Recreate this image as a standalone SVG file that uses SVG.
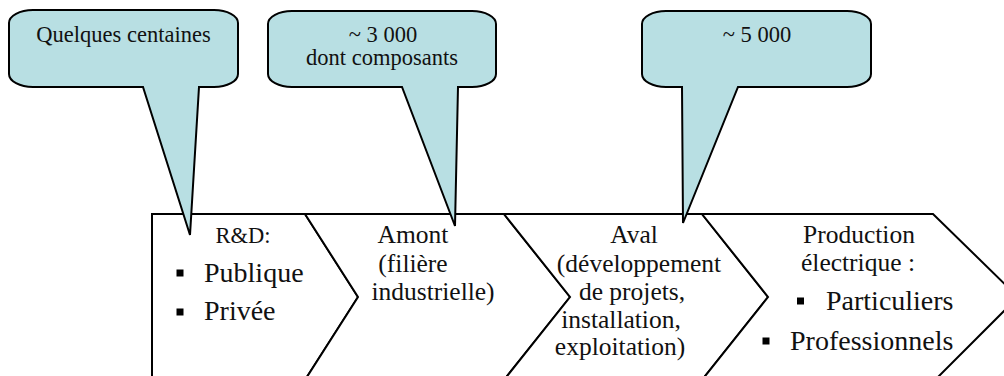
<svg xmlns="http://www.w3.org/2000/svg" width="1004" height="376" viewBox="0 0 1004 376">
  <style>
    .stage { fill: #ffffff; stroke: #000000; stroke-width: 2; stroke-linejoin: miter; }
    .bubble { fill: #b8dfe3; stroke: #000000; stroke-width: 2; stroke-linejoin: miter; }
    text { font-family: "Liberation Serif", "Times New Roman", serif; fill: #111111; }
    .note { font-size: 22.5px; text-anchor: middle; }
    .lbl { font-size: 25.5px; text-anchor: middle; }
    .item { font-size: 28px; }
    .dot { fill: #000000; }
  </style>

  <rect width="1004" height="376" fill="#ffffff"/>

  <!-- value chain stages -->
  <g id="stage-rd">
    <path class="stage" d="M152,214 H305 L358,297 L305,380 H152 Z"/>
    <text class="lbl" x="243" y="243" style="font-size:22.5px">R&amp;D:</text>
    <rect class="dot" x="176.5" y="269.5" width="7" height="7"/>
    <text class="item" x="204" y="282">Publique</text>
    <rect class="dot" x="176.5" y="308.5" width="7" height="7"/>
    <text class="item" x="204" y="320">Privée</text>
  </g>

  <g id="stage-amont">
    <path class="stage" d="M305,214 H504 L570,297 L504,380 H305 L358,297 Z"/>
    <text class="lbl" x="413" y="243">Amont</text>
    <text class="lbl" x="413" y="272">(filière</text>
    <text class="lbl" x="433" y="300">industrielle)</text>
  </g>

  <g id="stage-aval">
    <path class="stage" d="M504,214 H702 L768,297 L702,380 H504 L570,297 Z"/>
    <text class="lbl" x="634" y="243">Aval</text>
    <text class="lbl" x="639" y="272">(développement</text>
    <text class="lbl" x="632" y="300">de projets,</text>
    <text class="lbl" x="621" y="328">installation,</text>
    <text class="lbl" x="620" y="355">exploitation)</text>
  </g>

  <g id="stage-production">
    <path class="stage" d="M702,214 H933 L1018,297 L935,380 H702 L768,297 Z"/>
    <text class="lbl" x="859" y="243">Production</text>
    <text class="lbl" x="858" y="271">électrique :</text>
    <rect class="dot" x="797" y="297.5" width="7" height="7"/>
    <text class="item" x="826" y="310">Particuliers</text>
    <rect class="dot" x="762.5" y="337.5" width="7" height="7"/>
    <text class="item" x="790" y="350">Professionnels</text>
  </g>

  <!-- headcount callouts pointing at the stage boundaries -->
  <g id="callout-rd">
    <path class="bubble" d="M33,10 H214 A24,13 0 0 1 238,23 V74 A24,13 0 0 1 214,87 H199 L190,235 L143,87 H33 A24,13 0 0 1 9,74 V23 A24,13 0 0 1 33,10 Z"/>
    <text class="note" x="123.5" y="42">Quelques centaines</text>
  </g>

  <g id="callout-amont">
    <path class="bubble" d="M292,11 H472 A24,13 0 0 1 496,24 V74 A24,13 0 0 1 472,87 H458 L455,226 L402,87 H292 A24,13 0 0 1 268,74 V24 A24,13 0 0 1 292,11 Z"/>
    <text class="note" x="383" y="42">~ 3 000</text>
    <text class="note" x="382" y="65">dont composants</text>
  </g>

  <g id="callout-aval">
    <path class="bubble" d="M666,11 H847 A24,13 0 0 1 871,24 V74 A24,13 0 0 1 847,87 H738 L683,223 L682,87 H666 A24,13 0 0 1 642,74 V24 A24,13 0 0 1 666,11 Z"/>
    <text class="note" x="757" y="42">~ 5 000</text>
  </g>
</svg>
